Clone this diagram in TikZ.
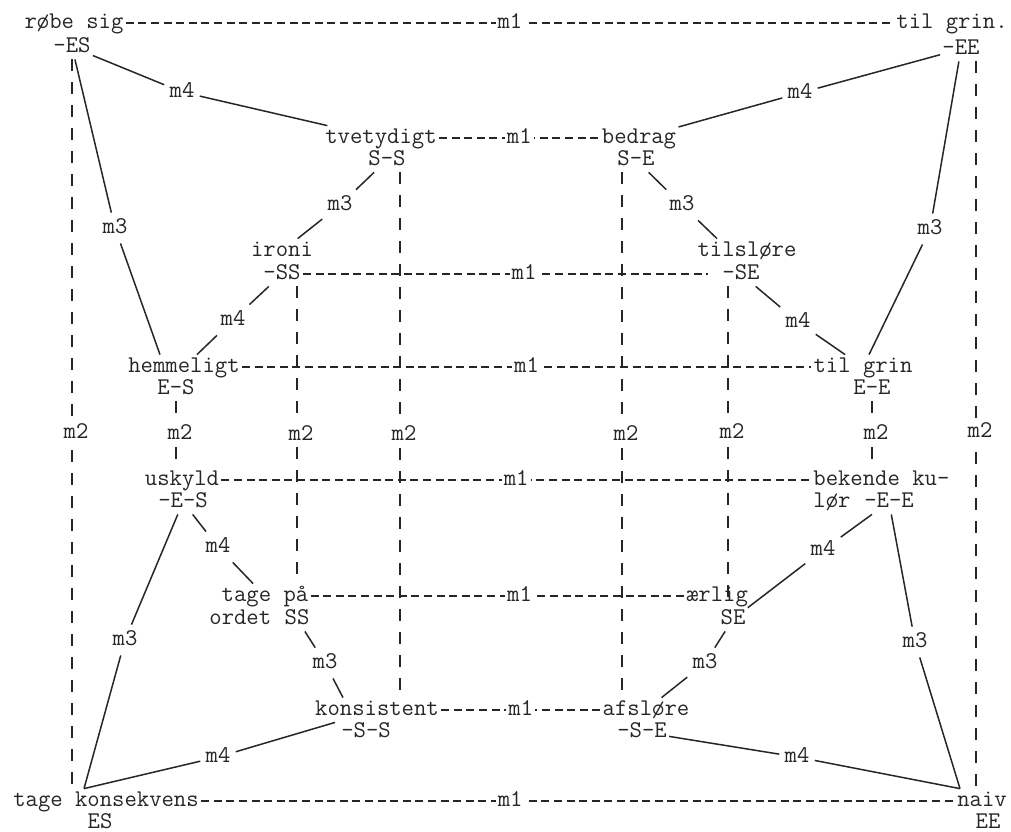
\documentclass[tikz,border=0pt]{standalone}
\usepackage{fontspec}
\usepackage{tikz}
\definecolor{inkcol}{HTML}{262626}

\begin{document}
\begin{tikzpicture}[
  x=0.5pt, y=-0.5pt,
  txt/.style={
    font=\ttfamily\fontsize{12}{14}\selectfont, text=inkcol,
    inner sep=1pt, text height=7.5pt, text depth=2.5pt
  },
  mlbl/.style={txt, fill=white, inner sep=1pt},
  mnode/.style={txt, inner sep=2.5pt},
  link/.style={draw=inkcol, line width=0.75pt},
  mone/.style={draw=inkcol, line width=0.65pt, dash pattern=on 4pt off 2.3pt},
  mtwo/.style={draw=inkcol, line width=0.65pt, dash pattern=on 6pt off 5.5pt},
]
\useasboundingbox (0,0) rectangle (1011,831);

% ---------------------------------------------------------------
% Units are pixels of the page, y runs downwards.
% Every term is a word node plus a code node just below it.
% ---------------------------------------------------------------

% ===== outer frame =====
\node[txt] (robe)   at (74,23)   {røbe sig};
\node[txt] (robeC)  at (72,47)   {-ES};
\node[txt] (grinA)  at (952,23)  {til grin.};
\node[txt] (grinAC) at (961,49)  {-EE};
\node[txt] (konsek)  at (106,801) {tage konsekvens};
\node[txt] (konsekC) at (100,823) {ES};
\node[txt] (naiv)    at (982,801) {naiv};
\node[txt] (naivC)   at (988,823) {EE};

% ===== inner frame =====
\node[txt] (tvet)     at (381,138) {tvetydigt};
\node[txt] (tvetC)    at (387,160) {S-S};
\node[txt] (bedrag)   at (639,138) {bedrag};
\node[txt] (bedragC)  at (636,160) {S-E};
\node[txt] (konsis)   at (377,710) {konsistent};
\node[txt] (konsisC)  at (366,732) {-S-S};
\node[txt] (afslore)  at (646,710) {afsløre};
\node[txt] (afsloreC) at (642,732) {-S-E};

% ===== middle terms =====
\node[txt] (ironi)  at (282,251) {ironi};
\node[txt] (ironiC) at (282,274) {-SS};
\node[txt] (tils)   at (747,251) {tilsløre};
\node[txt] (tilsC)  at (741,274) {-SE};
\node[txt] (hem)    at (184,367) {hemmeligt};
\node[txt] (hemC)   at (176,389) {E-S};
\node[txt] (grinB)  at (863,367) {til grin};
\node[txt] (grinBC) at (872,389) {E-E};
\node[txt] (usk)    at (182,480) {uskyld};
\node[txt] (uskC)   at (183,502) {-E-S};
\node[txt, anchor=west] (bek)   at (811,480) {bekende ku-};
\node[txt, anchor=west] (kulor) at (811,502) {lør};
\node[txt] (bekC)   at (889,502) {-E-E};
\node[txt] (tagepa) at (265,596) {tage på};
\node[txt, anchor=west] (ordet) at (207,619) {ordet};
\node[txt] (tagepaC) at (297,619) {SS};
\node[txt] (aerlig)  at (717,596) {ærlig};
\node[txt] (aerligC) at (733,619) {SE};

% ===== m1: horizontal dashes =====
\draw[mone] (robe)   -- node[mlbl]{m1} (grinA);
\draw[mone] (tvet)   -- node[mlbl]{m1} (bedrag);
\draw[mone, shorten >=6pt] (ironiC) -- node[mlbl, pos=.53]{m1} (tilsC);
\draw[mone] (hem)    -- node[mlbl]{m1} (grinB);
\draw[mone] (usk)    -- node[mlbl]{m1} (bek);
\draw[mone] (tagepa) -- node[mlbl, pos=.56]{m1} (aerlig);
\draw[mone] (konsis) -- node[mlbl]{m1} (afslore);
\draw[mone] (konsek) -- node[mlbl, pos=.41]{m1} (naiv);

% ===== m2: vertical dashes =====
\foreach \n/\x in {1/72,2/176,3/297,4/400,5/622,6/728,7/872,8/976}
  \coordinate (col\n) at (\x,0);

\draw[mtwo] (robeC.south -| col1)   -- node[mlbl, xshift=2pt, pos=.513]{m2} (konsek.north -| col1);
\draw[mtwo] (hemC.south -| col2)    -- node[mlbl, xshift=2pt]{m2} (usk.north -| col2);
\draw[mtwo] (ironiC.south -| col3)  -- node[mlbl, xshift=2pt]{m2} (tagepa.north -| col3);
\draw[mtwo] (tvetC.south -| col4)   -- node[mlbl, xshift=2pt]{m2} (konsis.north -| col4);
\draw[mtwo] (bedragC.south -| col5) -- node[mlbl, xshift=2pt]{m2} (afslore.north -| col5);
\draw[mtwo] (tilsC.south -| col6)   -- node[mlbl, xshift=2pt, pos=.46]{m2} (aerligC.north -| col6);
\draw[mtwo] (grinBC.south -| col7)  -- node[mlbl, xshift=2pt]{m2} (bek.north -| col7);
\draw[mtwo] (grinAC.south -| col8)  -- node[mlbl, xshift=2pt, pos=.51]{m2} (naiv.north -| col8);

% ===== m3 / m4: solid links =====
\foreach \nm/\t/\x/\y in {m4a/m4/182/92, m3a/m3/115/228, m3b/m3/340/205, m4b/m4/233/320,
    m4c/m4/800/93, m3c/m3/682/205, m4d/m4/798/322, m3d/m3/930/229,
    m4e/m4/218/547, m3e/m3/125/640, m3f/m3/325/663, m4f/m4/218/757,
    m4g/m4/823/550, m3g/m3/915/642, m3h/m3/705/663, m4h/m4/797/757}
  \node[mnode] (\nm) at (\x,\y) {\t};

\draw[link] (robeC) -- (m4a) -- (tvet);
\draw[link] (robeC) -- (m3a) -- ([xshift=-12pt]hem.north);
\draw[link] (tvetC) -- (m3b) -- (ironi);
\draw[link] (ironiC) -- (m4b) -- (hem);
\draw[link] (bedrag) -- (m4c) -- (grinAC);
\draw[link] (bedragC) -- (m3c) -- ([xshift=-15pt]tils.north);
\draw[link] (tilsC) -- (m4d) -- (grinB);
\draw[link] (grinAC) -- (m3d) -- (grinB);
\draw[link] (uskC) -- (m4e) -- (tagepa);
\draw[link] (uskC) -- (m3e) -- ([xshift=-11pt]konsek.north);
\draw[link] (tagepaC) -- (m3f) -- ([xshift=-17pt]konsis.north);
\draw[link] (konsis) -- (m4f) -- ([xshift=-11pt]konsek.north);
\draw[link] (bekC) -- (m4g) -- (aerligC);
\draw[link] (bekC) -- (m3g) -- ([xshift=-11pt]naiv.north);
\draw[link] (aerligC) -- (m3h) -- (afslore);
\draw[link] (afsloreC) -- (m4h) -- ([xshift=-11pt]naiv.north);

\end{tikzpicture}
\end{document}
